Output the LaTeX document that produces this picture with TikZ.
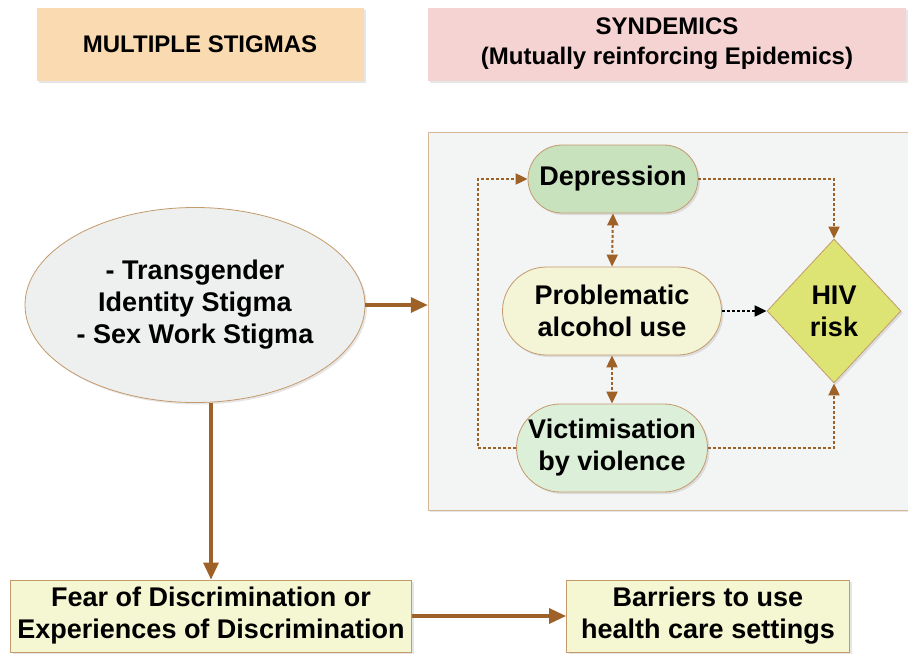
\documentclass[tikz,border=0pt]{standalone}
\usepackage{fontspec}
\setmainfont{Liberation Sans}
\usetikzlibrary{shapes.geometric,shapes.misc,shadows,arrows.meta}

\definecolor{arrowbrown}{HTML}{9E6128}
\definecolor{edgebrown}{HTML}{C49A6C}
\definecolor{headorange}{HTML}{FADAB0}
\definecolor{headpink}{HTML}{F6D3D3}
\definecolor{panelgrey}{HTML}{F3F4F4}
\definecolor{stigmagrey}{HTML}{EEEFEF}
\definecolor{depgreen}{HTML}{C8E2BE}
\definecolor{alcyellow}{HTML}{F3F5D6}
\definecolor{vicgreen}{HTML}{DCEFD8}
\definecolor{hivyellow}{HTML}{DDE473}
\definecolor{boxyellow}{HTML}{F5F6D2}

\tikzset{
  softshadow/.style={drop shadow={opacity=0.2,shadow xshift=2pt,shadow yshift=-2pt}},
  headbox/.style={rectangle, minimum height=73pt, align=center, softshadow,
    font=\bfseries\fontsize{24}{30}\selectfont},
  bodytext/.style={align=center, font=\bfseries\fontsize{27}{32}\selectfont},
  stadium/.style={rounded rectangle, draw=edgebrown, thick, inner sep=0pt, softshadow, bodytext},
  flatbox/.style={rectangle, draw=edgebrown, thick, fill=boxyellow, minimum height=72pt,
    inner sep=0pt, align=center, softshadow, font=\bfseries\fontsize{27}{32}\selectfont},
  mainarrow/.style={-{Triangle[length=17pt,width=15pt]}, line width=3.2pt, arrowbrown},
  loop/.style={-{Triangle[length=12pt,width=11pt]}, line width=2pt, arrowbrown, dash pattern=on 3pt off 2pt},
}

\begin{document}
\begin{tikzpicture}[x=1pt,y=-1pt]
   \useasboundingbox (0,0) rectangle (908,654);

   % headers
   \node[headbox, fill=headorange, minimum width=327pt] (multi) at (200,44) {MULTIPLE STIGMAS};
   \node[headbox, fill=headpink, minimum width=478pt] (synd) at (667,44) {SYNDEMICS\\(Mutually reinforcing Epidemics)};

   % syndemic panel
   \node[rectangle, draw=edgebrown!70, fill=panelgrey, minimum width=482pt, minimum height=378pt,
     softshadow] (panel) at (669,321) {};

   \node[ellipse, draw=edgebrown, thick, fill=stigmagrey, minimum width=340pt, minimum height=195pt,
     inner sep=0pt, softshadow, bodytext] (stigma) at (195,305)
     {- Transgender\\Identity Stigma\\- Sex Work Stigma};

   \node[stadium, fill=depgreen, minimum width=170pt, minimum height=68pt] (dep) at (613,179) {Depression};
   \node[stadium, fill=alcyellow, minimum width=219pt, minimum height=88pt] (alc) at (612,311) {Problematic\\alcohol use};
   \node[stadium, fill=vicgreen, minimum width=191pt, minimum height=88pt] (vic) at (612,448) {Victimisation\\by violence};
   \node[diamond, draw=edgebrown, thick, fill=hivyellow, minimum width=134pt, minimum height=144pt,
     inner sep=0pt, softshadow, bodytext] (hiv) at (834,311) {HIV\\risk};

   \node[flatbox, minimum width=401pt] (fear) at (211,616) {Fear of Discrimination or\\Experiences of Discrimination};
   \node[flatbox, minimum width=283pt] (barrier) at (708,616) {Barriers to use\\health care settings};

   % connectors
   \draw[mainarrow] (stigma.east) -- (stigma.east -| panel.west);
   \draw[mainarrow] (stigma.south -| fear.north) -- (fear.north);
   \draw[mainarrow] (fear.east) -- (barrier.west);

   \draw[loop] (dep.east) -| (hiv.north);
   \draw[loop] (vic.east) -| (hiv.south);
   \draw[loop] (vic.west) -- ++(-38,0) |- (dep.west);
   \draw[loop, {Triangle[length=12pt,width=11pt]}-{Triangle[length=12pt,width=11pt]}] (dep.south) -- (alc.north);
   \draw[loop, {Triangle[length=12pt,width=11pt]}-{Triangle[length=12pt,width=11pt]}] (alc.south) -- (vic.north);
   \draw[loop, black] (alc.east) -- (hiv.west);
\end{tikzpicture}
\end{document}
